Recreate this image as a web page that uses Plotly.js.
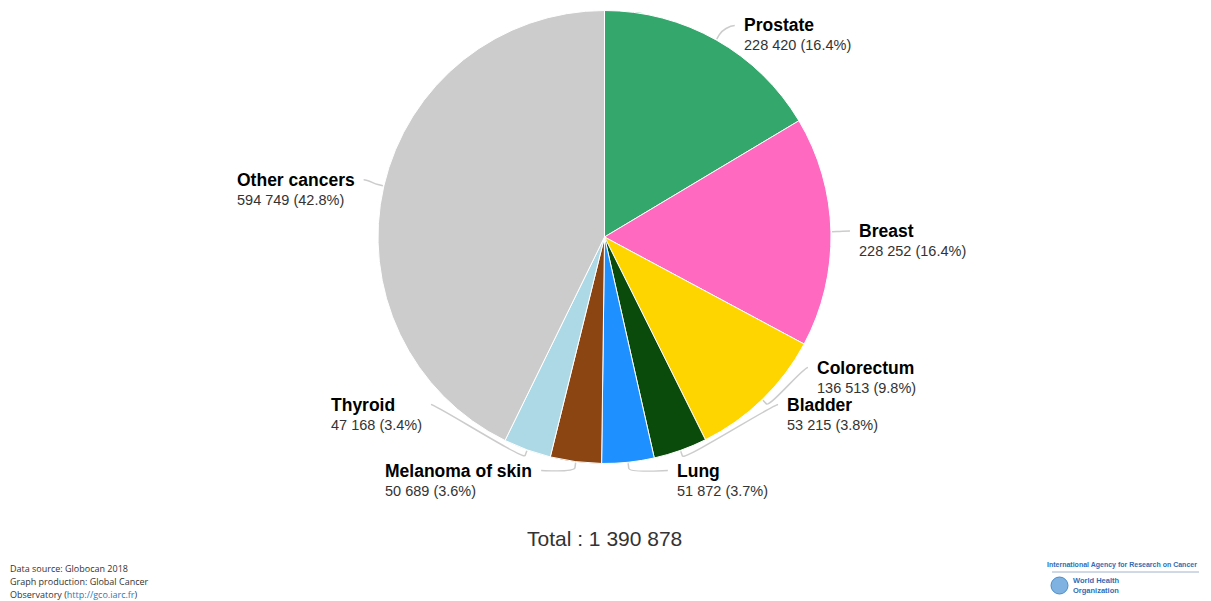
<!DOCTYPE html>
<html>
<head>
<meta charset="utf-8">
<script src="https://cdn.plot.ly/plotly-3.0.1.min.js"></script>
<style>
  html, body { margin: 0; padding: 0; background: #ffffff; }
  #chart { width: 1211px; height: 601px; }
</style>
</head>
<body>
<div id="chart"></div>
<script>
// Estimated number of new cancer cases, both sexes, all ages (Globocan 2018)
const categories = ['Prostate', 'Breast', 'Colorectum', 'Bladder', 'Lung', 'Melanoma of skin', 'Thyroid', 'Other cancers'];
const counts = [228420, 228252, 136513, 53215, 51872, 50689, 47168, 594749];
const sliceColors = ['#34a86c', '#ff69c0', '#ffd500', '#0a4a0a', '#1e90ff', '#8b4513', '#add8e6', '#cccccc'];

const sourceLines = ['Data source: Globocan 2018', 'Graph production: Global Cancer', 'Observatory ('];
const sourceLink = 'http://gco.iarc.fr';

// Page geometry (pixels)
const W = 1211, H = 601;
const CX = 604.5, CY = 237, RAD = 226.5;   // pie centre and radius
const LABEL_R = RAD + 27.5;                 // circle giving each label's natural height
const LABEL_XR = RAD + 26;                  // circle giving each label's horizontal position
const HEAD = 9;                             // distance from block centre up to the name line
const SLOT = 37;                            // vertical room for one two-line label
const TOP_LIMIT = 34.5;                     // highest allowed label centre
const BOTTOM_ROW = CY + RAD + 16;           // centre of labels sitting under the pie
const SIDE_BOTTOM = BOTTOM_ROW - 66;        // lowest centre for labels beside the pie

const px = x => x / W;
const py = y => 1 - y / H;
const fmt = n => String(n).replace(/\B(?=(\d{3})+(?!\d))/g, ' ');

const total = counts.reduce((a, b) => a + b, 0);

// Mid angle of every slice, clockwise from 12 o'clock
let acc = 0;
const slices = counts.map((v, i) => {
  const theta = 2 * Math.PI * (acc + v / 2) / total;
  acc += v;
  const sx = Math.sin(theta), sy = -Math.cos(theta);
  return {
    i, theta, sx, sy,
    // the name line sits on the label circle, the block centre just below it
    natural: CY + LABEL_R * sy + HEAD,
    group: (Math.abs(sx) < 0.2 && sy > 0) ? 'bottom' : (sx > 0 ? 'right' : 'left')
  };
});

// Spread labels on each side so that they do not overlap
['left', 'right'].forEach(side => {
  const list = slices.filter(s => s.group === side).sort((a, b) => a.natural - b.natural);
  for (let k = list.length - 1; k >= 0; k--) {
    const limit = k === list.length - 1 ? SIDE_BOTTOM : list[k + 1].y - SLOT;
    list[k].y = Math.min(list[k].natural, limit);
  }
  for (let k = 1; k < list.length; k++) {
    list[k].y = Math.max(list[k].y, list[k - 1].y + SLOT);
  }
});
slices.filter(s => s.group === 'bottom').forEach(s => { s.y = BOTTOM_ROW; });

slices.forEach(s => {
  const dy = s.y - CY;
  const half = Math.sqrt(Math.max(0, LABEL_XR * LABEL_XR - dy * dy));
  s.right = s.sx > 0;
  s.x = s.right ? CX + half : CX - half;
  s.y = Math.max(s.y, TOP_LIMIT);
});

const annotations = [];
const shapes = [];

slices.forEach(s => {
  const v = counts[s.i];
  const pct = (v / total * 100).toFixed(1) + '%';
  annotations.push({
    xref: 'paper', yref: 'paper',
    x: px(s.x), y: py(s.y),
    xanchor: s.right ? 'left' : 'right', yanchor: 'middle',
    align: 'left', showarrow: false,
    font: { family: 'Liberation Sans, Arial, sans-serif', size: 14.5, color: '#333333' },
    text: '<span style="font-size:17.5px;color:#000000;font-weight:bold">' + categories[s.i] +
          '</span><br>' + fmt(v) + ' (' + pct + ')'
  });

  // Soft connector from the label to the edge of its slice
  const ax = s.right ? s.x - 7 : s.x + 7;
  const ay = s.y - HEAD;
  const bx = CX + (RAD + 6) * s.sx, by = CY + (RAD + 6) * s.sy;
  const tx = CX + (RAD + 1) * s.sx, ty = CY + (RAD + 1) * s.sy;
  const c1x = ax + (s.right ? -5 : 5), c1y = ay;
  const c2x = 2 * bx - tx, c2y = 2 * by - ty;
  const P = (x, y) => px(x).toFixed(5) + ',' + py(y).toFixed(5);
  shapes.push({
    type: 'path', xref: 'paper', yref: 'paper', layer: 'below',
    path: 'M' + P(ax, ay) + ' C' + P(c1x, c1y) + ' ' + P(c2x, c2y) + ' ' + P(bx, by) + ' L' + P(tx, ty),
    line: { color: '#cccccc', width: 1.5 }
  });
});

// Total caption
annotations.push({
  xref: 'paper', yref: 'paper', x: px(CX), y: py(538),
  xanchor: 'center', yanchor: 'middle', showarrow: false,
  font: { family: 'Liberation Sans, Arial, sans-serif', size: 21, color: '#333333' },
  text: 'Total : ' + fmt(total)
});

// Source notes
sourceLines.forEach((line, k) => {
  const txt = k === sourceLines.length - 1
    ? line + '<span style="color:#2a7ab8">' + sourceLink + '</span>)'
    : line;
  annotations.push({
    xref: 'paper', yref: 'paper', x: px(8), y: py(568 + 13 * k),
    xanchor: 'left', yanchor: 'middle', showarrow: false, align: 'left',
    font: { family: 'Open Sans, sans-serif', size: 9, color: '#333333' },
    text: txt
  });
});

// Agency logos
annotations.push({
  xref: 'paper', yref: 'paper', x: px(1199), y: py(565),
  xanchor: 'right', yanchor: 'middle', showarrow: false,
  font: { family: 'Liberation Sans Narrow, Liberation Sans, sans-serif', size: 7, color: '#2f6db5' },
  text: '<b>International Agency for Research on Cancer</b>'
});
annotations.push({
  xref: 'paper', yref: 'paper', x: px(1071), y: py(585),
  xanchor: 'left', yanchor: 'middle', showarrow: false, align: 'left',
  font: { family: 'Liberation Sans Narrow, Liberation Sans, sans-serif', size: 7.5, color: '#2f6db5' },
  text: '<b>World Health<br>Organization</b>'
});
shapes.push({
  type: 'line', xref: 'paper', yref: 'paper',
  x0: px(1052), x1: px(1199), y0: py(572), y1: py(572),
  line: { color: '#9fb4cc', width: 1 }
});
shapes.push({
  type: 'circle', xref: 'paper', yref: 'paper',
  x0: px(1051), x1: px(1068), y0: py(577), y1: py(594),
  fillcolor: '#7fb2e0', line: { color: '#4a8ccc', width: 1 }
});

const trace = {
  type: 'pie',
  labels: categories,
  values: counts,
  sort: false,
  direction: 'clockwise',
  rotation: 0,
  textinfo: 'none',
  hoverinfo: 'label+value+percent',
  marker: { colors: sliceColors, line: { color: '#ffffff', width: 1 } },
  domain: { x: [px(CX - RAD), px(CX + RAD)], y: [py(CY + RAD), py(CY - RAD)] },
  showlegend: false
};

const layout = {
  width: W, height: H,
  margin: { l: 0, r: 0, t: 0, b: 0 },
  paper_bgcolor: '#ffffff',
  showlegend: false,
  annotations, shapes
};

Plotly.newPlot('chart', [trace], layout, { displayModeBar: false, staticPlot: true });
</script>
</body>
</html>
